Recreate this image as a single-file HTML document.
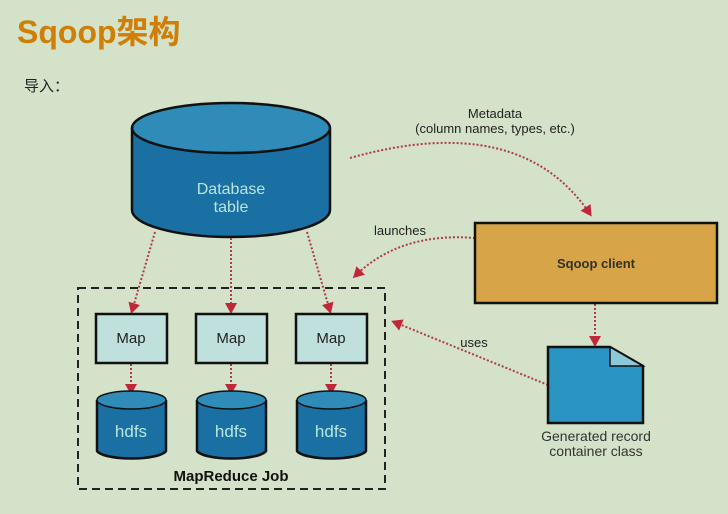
<!DOCTYPE html>
<html><head><meta charset="utf-8"><style>
html,body{margin:0;padding:0;background:#d3e2c8;}
svg{display:block}
</style></head><body>
<svg width="728" height="514" viewBox="0 0 728 514" xmlns="http://www.w3.org/2000/svg" font-family="'Liberation Sans','Noto Sans CJK SC',sans-serif">
<rect width="728" height="514" fill="#d3e2c8"/>
<text x="17" y="43" font-size="32" font-weight="bold" fill="#cf7f05">Sqoop架构</text>
<text x="24" y="91" font-size="15" fill="#222">导入：</text>
<defs>
<marker id="ah" markerWidth="12" markerHeight="12" refX="8" refY="6" orient="auto" markerUnits="userSpaceOnUse">
<path d="M0,0 L11,6 L0,12 z" fill="#c0283a"/></marker>
</defs>
<!-- DB cylinder -->
<path d="M132,128 L132,210 A99,27 0 0 0 330,210 L330,128" fill="#1a6fa3" stroke="#111" stroke-width="2.5"/>
<ellipse cx="231" cy="128" rx="99" ry="25" fill="#2f8bb8" stroke="#111" stroke-width="2.5"/>
<text x="231" y="194" font-size="16" fill="#b8e6dc" text-anchor="middle">Database</text>
<text x="231" y="212" font-size="16" fill="#b8e6dc" text-anchor="middle">table</text>
<!-- metadata -->
<text x="495" y="118" font-size="13" fill="#222" text-anchor="middle">Metadata</text>
<text x="495" y="133" font-size="13" fill="#222" text-anchor="middle">(column names, types, etc.)</text>
<g fill="none" stroke="#b03a4a" stroke-width="2" stroke-dasharray="2,2">
<path d="M350,158 Q520,110 590,214" marker-end="url(#ah)"/>
<path d="M475,238 Q400,232 355,276" marker-end="url(#ah)"/>
<path d="M548,385 L394,322" marker-end="url(#ah)"/>
<path d="M595,304 L595,344" marker-end="url(#ah)"/>
<path d="M155,232 L132,311" marker-end="url(#ah)"/>
<path d="M231,238 L231,311" marker-end="url(#ah)"/>
<path d="M307,232 L330,311" marker-end="url(#ah)"/>
<path d="M131,364 L131,392" marker-end="url(#ah)"/>
<path d="M231,364 L231,392" marker-end="url(#ah)"/>
<path d="M331,364 L331,392" marker-end="url(#ah)"/>
</g>
<text x="400" y="235" font-size="13" fill="#222" text-anchor="middle">launches</text>
<text x="474" y="347" font-size="13" fill="#222" text-anchor="middle">uses</text>
<!-- Sqoop client -->
<rect x="475" y="223" width="242" height="80" fill="#d8a448" stroke="#111" stroke-width="2.5"/>
<text x="596" y="268" font-size="13" font-weight="bold" fill="#332" text-anchor="middle">Sqoop client</text>
<!-- document -->
<path d="M548,347 L610,347 L643,366 L643,423 L548,423 Z" fill="#2a95c4" stroke="#111" stroke-width="2.5"/>
<path d="M610,347 L610,366 L643,366 Z" fill="#8cc8d8" stroke="#111" stroke-width="1.5"/>
<text x="596" y="441" font-size="14" fill="#333" text-anchor="middle">Generated record</text>
<text x="596" y="456" font-size="14" fill="#333" text-anchor="middle">container class</text>
<!-- dashed box -->
<rect x="78" y="288" width="307" height="201" fill="none" stroke="#222" stroke-width="2" stroke-dasharray="8,5"/>
<g id="col">
<rect x="96" y="314" width="71" height="49" fill="#bfe0dc" stroke="#111" stroke-width="2.5"/>
<text x="131" y="343" font-size="15" fill="#222" text-anchor="middle">Map</text>
<path d="M97,400 L97,451 A35,9 0 0 0 166,451 L166,400" fill="#1a6fa3" stroke="#111" stroke-width="2.5"/>
<ellipse cx="131.5" cy="400" rx="34.5" ry="9" fill="#2f8bb8" stroke="#111" stroke-width="1.5"/>
<text x="131" y="437" font-size="17" fill="#b8e6dc" text-anchor="middle">hdfs</text>
</g>
<use href="#col" x="100"/>
<use href="#col" x="200"/>
<text x="231" y="481" font-size="15" font-weight="bold" fill="#111" text-anchor="middle">MapReduce Job</text>
</svg>
</body></html>
